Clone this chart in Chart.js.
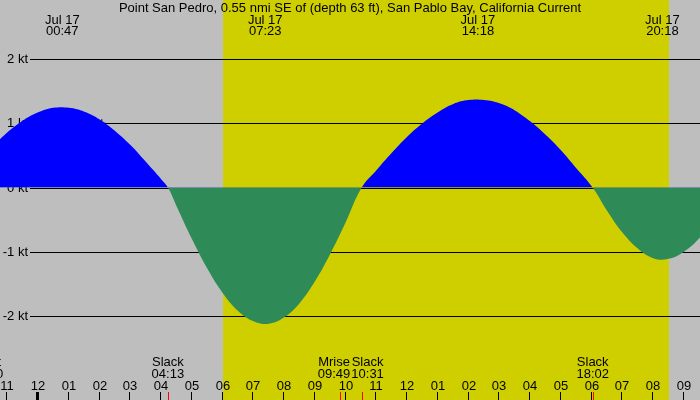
<!DOCTYPE html>
<html>
<head>
<meta charset="utf-8">
<script src="https://cdn.jsdelivr.net/npm/chart.js@4"></script>
<style>
  html, body { margin: 0; padding: 0; background: #bebebe; }
  #tideChart { display: block; }
</style>
</head>
<body>
<canvas id="tideChart" width="700" height="400"></canvas>
<script>
// hours since Jul 17 00:00 (negative = Jul 16)
const hours = [-1.5, -1.0, -0.5, 0.0, 0.5, 1.0, 1.5, 2.0, 2.5, 3.0, 3.5, 4.0, 4.22,
  4.5, 5.0, 5.5, 6.0, 6.5, 7.0, 7.5, 8.0, 8.5, 9.0, 9.5, 10.0, 10.52,
  11.0, 11.5, 12.0, 12.5, 13.0, 13.5, 14.0, 14.5, 15.0, 15.5, 16.0, 16.5, 17.0, 17.5, 18.03,
  18.5, 19.0, 19.5, 20.0, 20.5, 21.0, 21.5, 22.0];
// current speed, knots (flood +, ebb -)
const knots = [0.63, 0.86, 1.04, 1.17, 1.24, 1.24, 1.18, 1.06, 0.88, 0.66, 0.40, 0.13, 0.0,
  -0.29, -0.80, -1.26, -1.64, -1.92, -2.08, -2.12, -2.02, -1.80, -1.46, -1.03, -0.54, 0.0,
  0.27, 0.54, 0.79, 1.00, 1.17, 1.30, 1.36, 1.36, 1.31, 1.20, 1.03, 0.82, 0.58, 0.30, 0.0,
  -0.36, -0.70, -0.95, -1.10, -1.11, -1.00, -0.79, -0.49];

const title = 'Point San Pedro, 0.55 nmi SE of (depth 63 ft), San Pablo Bay, California Current';
const peakDate = 'Jul 17';
const peakTimes = ['00:47', '07:23', '14:18', '20:18'];
const eventNames = ['Mset', 'Slack', 'Mrise', 'Slack', 'Slack'];
const eventTimes = ['-22:20', '04:13', '09:49', '10:31', '18:02'];
const yTicks = [2, 1, 0, -1, -2];
const sunrise = '06:00';
const sunset = '20:31';
const markTime = '02:04';
const markValue = 1.0;

const xMin = -1.242, xMax = 21.522;
const yMin = -3.307, yMax = 2.918;

function toHours(s) {
  let neg = s[0] === '-';
  let p = s.replace('-', '').split(':');
  let h = +p[0] + p[1] / 60;
  return neg ? h - 24 : h;
}

const FONT = '13px "Liberation Sans", Arial, sans-serif';

const xtide = {
  id: 'xtide',
  beforeDatasetsDraw(chart) {
    const c = chart.ctx, xs = chart.scales.x, ys = chart.scales.y;
    c.save();
    c.fillStyle = '#bebebe';
    c.fillRect(0, 0, chart.width, chart.height);
    let x1 = xs.getPixelForValue(toHours(sunrise));
    let x2 = xs.getPixelForValue(toHours(sunset));
    c.fillStyle = '#cfcf00';
    c.fillRect(Math.round(x1), 0, Math.round(x2 - x1), chart.height);
    c.fillStyle = '#000';
    c.font = FONT;
    c.textAlign = 'right';
    c.textBaseline = 'middle';
    yTicks.forEach(v => {
      let y = Math.round(ys.getPixelForValue(v));
      c.fillRect(30, y, chart.width - 30, 1);
      c.fillText(v + ' kt', 28, y);
    });
    c.restore();
  },
  afterDatasetsDraw(chart) {
    const c = chart.ctx, xs = chart.scales.x;
    c.save();
    c.font = FONT;
    c.fillStyle = '#000';
    c.textBaseline = 'middle';
    c.textAlign = 'center';
    c.fillText(title, 350, 8);
    peakTimes.forEach(t => {
      let x = xs.getPixelForValue(toHours(t));
      c.fillText(peakDate, x, 20);
      c.fillText(t, x, 31);
    });
    // hour ticks
    for (let h = Math.ceil(xMin); h <= Math.floor(xMax); h++) {
      let x = Math.round(xs.getPixelForValue(h));
      let hh = ((h % 12) + 12) % 12;
      if (hh === 0) hh = 12;
      c.fillStyle = '#000';
      if (h % 24 === 0) c.fillRect(x - 2, 392, 3, 8);
      else c.fillRect(x - 1, 392, 1, 8);
      c.fillText(String(hh).padStart(2, '0'), x, 386);
    }
    // events, nudged apart when they overlap
    let labs = eventNames.map((n, i) => {
      let x = xs.getPixelForValue(toHours(eventTimes[i]));
      let t = eventTimes[i].replace('-', '');
      let w = Math.max(c.measureText(n).width, c.measureText(t).width);
      return { n, t, tick: x, x, w };
    });
    for (let i = 1; i < labs.length; i++) {
      let a = labs[i - 1], b = labs[i];
      let ov = (a.x + a.w / 2 + 1) - (b.x - b.w / 2);
      if (ov > 0) { a.x -= ov / 2; b.x += ov / 2; }
    }
    labs.forEach(l => {
      c.fillStyle = '#ff0000';
      c.fillRect(Math.round(l.tick), 392, 1, 8);
      c.fillStyle = '#000';
      c.textAlign = 'center';
      c.fillText(l.n, l.x, 362);
      c.fillText(l.t, l.x, 374);
    });
    c.restore();
  }
};

new Chart(document.getElementById('tideChart'), {
  type: 'line',
  data: {
    datasets: [{
      data: hours.map((h, i) => ({ x: h, y: knots[i] })),
      borderColor: 'rgba(0,0,0,0)',
      borderWidth: 0,
      pointRadius: 0,
      tension: 0.4,
      fill: { target: 'origin', above: '#0000ff', below: '#2e8b57' }
    }, {
      data: [{ x: toHours(markTime), y: markValue }],
      pointStyle: 'cross',
      pointRadius: 4,
      borderColor: '#000',
      borderWidth: 1,
      showLine: false
    }]
  },
  options: {
    responsive: false,
    animation: false,
    devicePixelRatio: 1,
    layout: { padding: 0, autoPadding: false },
    plugins: { legend: { display: false }, tooltip: { enabled: false } },
    scales: {
      x: { type: 'linear', min: xMin, max: xMax, display: false },
      y: { min: yMin, max: yMax, display: false }
    }
  },
  plugins: [xtide]
});
</script>
</body>
</html>
